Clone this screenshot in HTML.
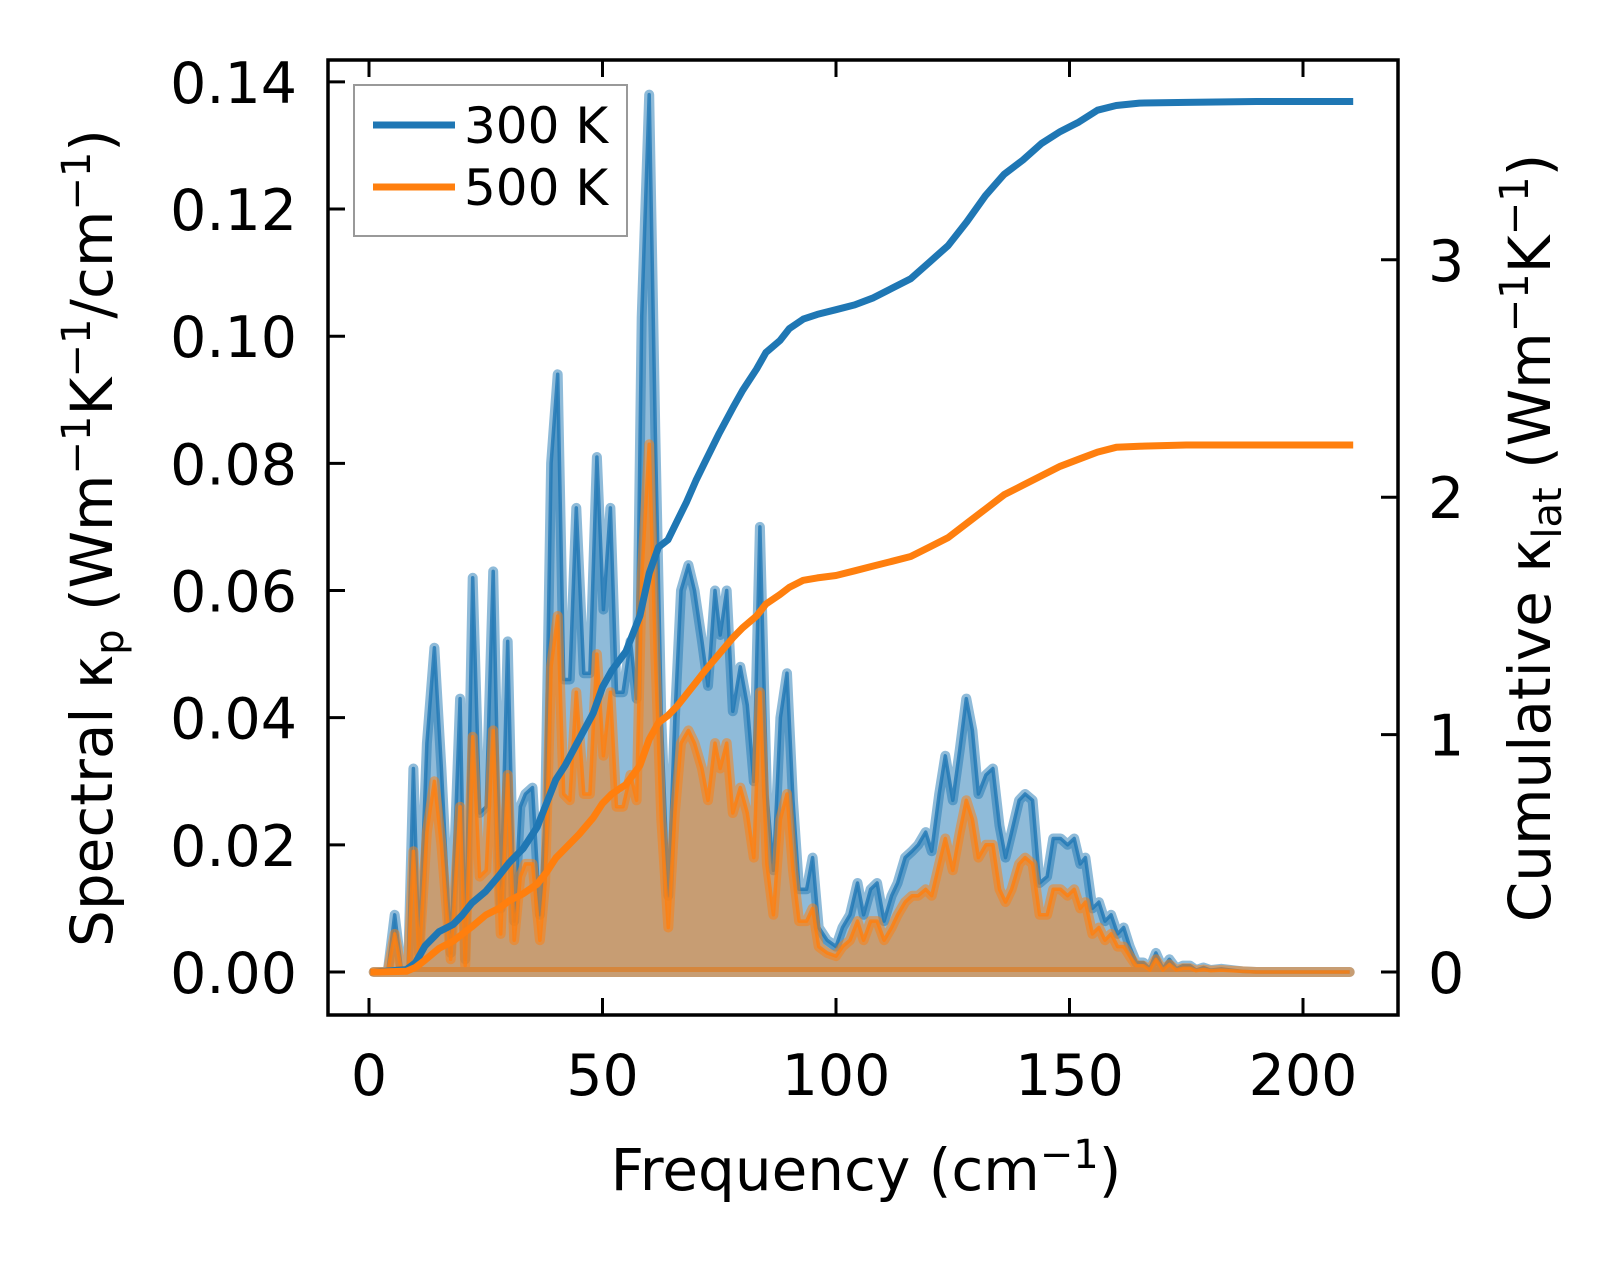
<!DOCTYPE html>
<html><head><meta charset="utf-8"><style>
html,body{margin:0;padding:0;background:#fff;}
svg{display:block;font-family:"DejaVu Sans","Liberation Sans",sans-serif;}
</style></head><body>
<svg id="chart" width="1623" height="1264" viewBox="0 0 1623 1264" xmlns="http://www.w3.org/2000/svg">
<rect x="0" y="0" width="1623" height="1264" fill="#fff"/>
<g id="plot"></g>
<g id="axes"></g>
</svg>
<script>
const freqs = [1,2,4,5.5,7,8.4,9.5,10.7,12.4,14,15.5,17.5,19.5,20.6,22.2,23.7,25.1,26.6,28.2,29.7,31.1,32.4,33.5,35,36.6,37.7,39,40.4,41.7,43,44.4,46,47.3,48.8,50.2,51.7,53,54.4,56,57.3,58.4,60,61.3,62.6,64.1,65.5,66.8,68.4,69.7,71.3,72.6,74.1,75.2,76.6,77.9,79.5,81,82.4,83.7,85.2,86.6,88.1,89.5,90.8,92.1,93.7,95,96.3,98.1,100,101.4,103,104.6,105.9,107.4,108.8,110.3,111.9,113.2,114.8,116.3,117.6,119.2,120.5,122.1,123.4,125,126.5,127.9,129.2,130.5,132.1,133.6,135,136.3,137.6,139.2,140.5,142.1,143.6,145.2,146.5,148.1,149.6,151,152.3,153.4,154.9,156.3,157.6,158.9,160.3,161.6,162.9,164.3,165.8,167.2,168.5,170,171.4,172.9,174.3,175.8,177.1,178.7,180.2,182.5,184.7,187,190,210];
const spec300 = [0,0,0,0.009,0,0.001,0.032,0.003,0.036,0.051,0.032,0.003,0.043,0.002,0.062,0.025,0.026,0.063,0.010,0.052,0.008,0.026,0.028,0.029,0.009,0.024,0.080,0.094,0.046,0.046,0.073,0.047,0.047,0.081,0.057,0.073,0.044,0.044,0.052,0.043,0.103,0.138,0.085,0.040,0.012,0.040,0.060,0.064,0.060,0.052,0.045,0.060,0.053,0.060,0.041,0.048,0.042,0.030,0.070,0.028,0.016,0.040,0.047,0.027,0.013,0.013,0.018,0.007,0.005,0.004,0.007,0.009,0.014,0.009,0.013,0.014,0.008,0.012,0.014,0.018,0.019,0.020,0.022,0.019,0.028,0.034,0.027,0.035,0.043,0.038,0.028,0.031,0.032,0.023,0.018,0.022,0.027,0.028,0.027,0.014,0.015,0.021,0.021,0.020,0.021,0.017,0.018,0.010,0.011,0.008,0.009,0.006,0.007,0.004,0.0015,0.0015,0.0005,0.003,0.0005,0.002,0.0005,0.001,0.001,0.0003,0.0007,0.0003,0.0005,0.0003,0.0001,0,0];
const spec500 = [0,0,0,0.006,0,0.0005,0.019,0.002,0.022,0.030,0.020,0.002,0.026,0.001,0.037,0.015,0.016,0.038,0.006,0.031,0.005,0.015,0.017,0.017,0.005,0.014,0.048,0.056,0.028,0.027,0.044,0.028,0.028,0.050,0.034,0.044,0.026,0.026,0.031,0.027,0.062,0.083,0.050,0.024,0.007,0.025,0.036,0.038,0.036,0.032,0.027,0.036,0.032,0.036,0.025,0.029,0.025,0.018,0.044,0.017,0.009,0.024,0.028,0.016,0.008,0.008,0.010,0.004,0.003,0.0025,0.004,0.005,0.008,0.005,0.008,0.008,0.005,0.007,0.009,0.011,0.012,0.012,0.013,0.012,0.017,0.021,0.016,0.022,0.027,0.024,0.018,0.020,0.020,0.013,0.011,0.013,0.017,0.018,0.017,0.009,0.009,0.013,0.013,0.012,0.013,0.010,0.011,0.006,0.007,0.005,0.006,0.004,0.004,0.0025,0.001,0.001,0.0003,0.002,0.0003,0.0012,0.0003,0.0006,0.0006,0.0002,0.0004,0.0002,0.0003,0.0002,0.0001,0,0];
const cumFreqs = [1,8,10,12,15,18,20,22,25,28,30,33,36,38,40,42,45,48,50,52,55,58,60,62,64,66,68,70,72,75,78,80,83,85,88,90,93,96,100,104,108,112,116,120,124,128,132,136,140,144,148,152,156,160,165,175,190,210];
const cum300 = [0,0.01,0.04,0.11,0.17,0.2,0.24,0.29,0.34,0.41,0.46,0.52,0.61,0.71,0.81,0.87,0.98,1.09,1.2,1.27,1.35,1.5,1.68,1.79,1.82,1.9,1.98,2.07,2.15,2.27,2.38,2.45,2.54,2.61,2.66,2.71,2.75,2.77,2.79,2.81,2.84,2.88,2.92,2.99,3.06,3.16,3.27,3.36,3.42,3.49,3.54,3.58,3.63,3.65,3.66,3.663,3.667,3.667];
const cum500 = [0,0.003,0.02,0.05,0.1,0.13,0.16,0.19,0.24,0.27,0.3,0.33,0.37,0.42,0.48,0.52,0.58,0.65,0.71,0.75,0.79,0.87,0.98,1.05,1.08,1.12,1.17,1.22,1.27,1.34,1.41,1.45,1.5,1.55,1.59,1.62,1.65,1.66,1.67,1.69,1.71,1.73,1.75,1.79,1.83,1.89,1.95,2.01,2.05,2.09,2.13,2.16,2.19,2.21,2.215,2.22,2.22,2.22];
const xTicks = [0,50,100,150,200];
const yTicks = [0,0.02,0.04,0.06,0.08,0.10,0.12,0.14];
const yTickLabels = ["0.00","0.02","0.04","0.06","0.08","0.10","0.12","0.14"];
const y2Ticks = [0,1,2,3];
const y2TickLabels = ["0","1","2","3"];

const NS = "http://www.w3.org/2000/svg";
const L = 328, R = 1398, T = 60, B = 1015;
function X(f){ return 369 + f * 4.67; }
function Y(v){ return 972 - v * 6358; }
function Y2(c){ return 972 - c * 237.4; }
function mk(tag, attrs, parent){
  const e = document.createElementNS(NS, tag);
  for (const k in attrs) e.setAttribute(k, attrs[k]);
  parent.appendChild(e);
  return e;
}
const plot = document.getElementById('plot');
const axes = document.getElementById('axes');

function drawSpec(vals, color, name){
  let pts = freqs.map((f,i)=>X(f).toFixed(1)+','+Y(vals[i]).toFixed(1));
  let d = 'M' + X(freqs[0]) + ',' + Y(0) + ' L' + pts.join(' L') + ' L' + X(freqs[freqs.length-1]) + ',' + Y(0) + ' Z';
  const a = mk('path', {d:d, fill:color, 'fill-opacity':0.5, stroke:color, 'stroke-opacity':0.5, 'stroke-width':10, 'stroke-linejoin':'round'}, plot);
  
  
  const l = mk('polyline', {points:pts.join(' '), fill:'none', stroke:color, 'stroke-opacity':0.8, 'stroke-width':3.5, 'stroke-linejoin':'round'}, plot);
  
  
}
drawSpec(spec300, '#1f77b4', 'spectral-300k');
drawSpec(spec500, '#ff7f0e', 'spectral-500k');

function drawCum(vals, color, name){
  const pts = cumFreqs.map((f,i)=>X(f).toFixed(1)+','+Y2(vals[i]).toFixed(1)).join(' ');
  const l = mk('polyline', {points:pts, fill:'none', stroke:color, 'stroke-width':7, 'stroke-linejoin':'round', 'stroke-linecap':'square'}, plot);
  
  
}
drawCum(cum300, '#1f77b4', 'cumulative-300k');
drawCum(cum500, '#ff7f0e', 'cumulative-500k');

const fr = mk('rect', {x:L, y:T, width:R-L, height:B-T, fill:'none', stroke:'#000', 'stroke-width':3.5}, axes);



const TL = 17;
xTicks.forEach(t=>{
  const x = X(t);
  const a = mk('line', {x1:x, y1:B, x2:x, y2:B-TL, stroke:'#000', 'stroke-width':3}, axes);
  
  
  const b = mk('line', {x1:x, y1:T, x2:x, y2:T+TL, stroke:'#000', 'stroke-width':3}, axes);
  
  
  const tx = mk('text', {x:x, y:1095, 'font-size':57, 'text-anchor':'middle', fill:'#000'}, axes);
  tx.textContent = String(t);
  
  
});
yTicks.forEach((t,i)=>{
  const y = Y(t);
  const a = mk('line', {x1:L, y1:y, x2:L+TL, y2:y, stroke:'#000', 'stroke-width':3}, axes);
  
  
  const tx = mk('text', {x:297, y:y+21, 'font-size':57, 'text-anchor':'end', fill:'#000'}, axes);
  tx.textContent = yTickLabels[i];
  
  
});
y2Ticks.forEach((t,i)=>{
  const y = Y2(t);
  const a = mk('line', {x1:R, y1:y, x2:R-TL, y2:y, stroke:'#000', 'stroke-width':3}, axes);
  
  
  const tx = mk('text', {x:1428, y:y+21, 'font-size':57, 'text-anchor':'start', fill:'#000'}, axes);
  tx.textContent = y2TickLabels[i];
  
  
});
</script>
<svg style="position:absolute;left:0;top:0" width="1623" height="1264" xmlns="http://www.w3.org/2000/svg">
<g font-family="DejaVu Sans, Liberation Sans, sans-serif" fill="#000">
<text x="866" y="1190" font-size="58" text-anchor="middle">Frequency (cm<tspan dy="-22" font-size="40">−1</tspan><tspan dy="22">)</tspan></text>
<text transform="translate(112,538) rotate(-90)" font-size="58" text-anchor="middle">Spectral κ<tspan dy="11" font-size="40">p</tspan><tspan dy="-11"> (Wm</tspan><tspan dy="-22" font-size="40">−1</tspan><tspan dy="22">K</tspan><tspan dy="-22" font-size="40">−1</tspan><tspan dy="22">/cm</tspan><tspan dy="-22" font-size="40">−1</tspan><tspan dy="22">)</tspan></text>
<text transform="translate(1550,538) rotate(-90)" font-size="58" text-anchor="middle">Cumulative κ<tspan dy="11" font-size="40">lat</tspan><tspan dy="-11"> (Wm</tspan><tspan dy="-22" font-size="40">−1</tspan><tspan dy="22">K</tspan><tspan dy="-22" font-size="40">−1</tspan><tspan dy="22">)</tspan></text>
<g>
<rect x="354" y="85" width="273" height="151" fill="#fff" fill-opacity="0.8" stroke="#999" stroke-width="2"/>
<line x1="373" y1="125" x2="455" y2="125" stroke="#1f77b4" stroke-width="7"/>
<text x="464" y="143" font-size="50">300 K</text>
<line x1="373" y1="187" x2="455" y2="187" stroke="#ff7f0e" stroke-width="7"/>
<text x="464" y="205" font-size="50">500 K</text>
</g>
</g>
</svg>
</body></html>
